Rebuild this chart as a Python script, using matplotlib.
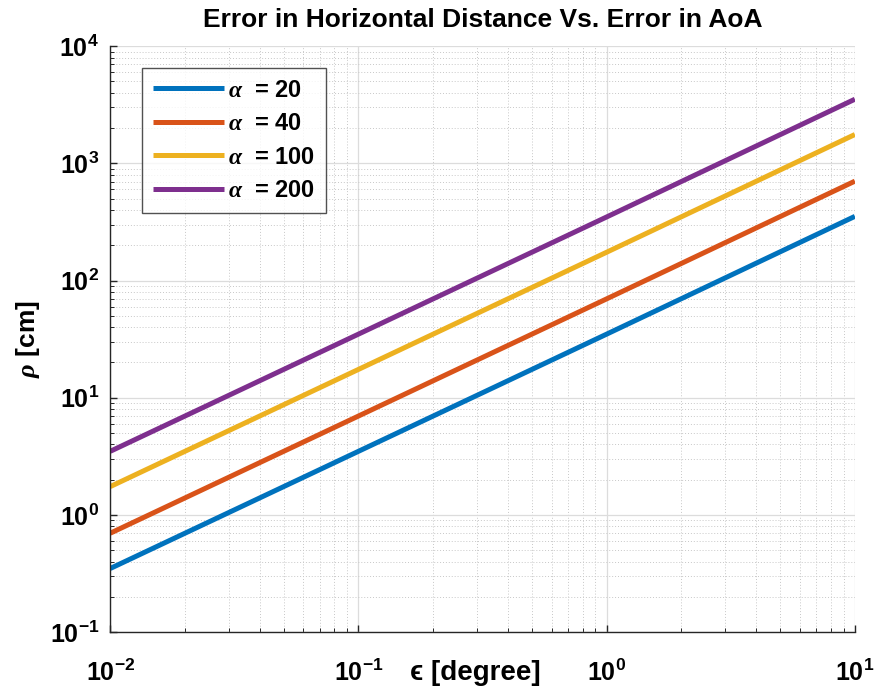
import matplotlib
matplotlib.use("Agg")
import matplotlib.pyplot as plt
from matplotlib.ticker import FixedLocator, FixedFormatter, LogLocator, NullFormatter

plt.rcParams['font.family'] = ['Liberation Sans', 'DejaVu Sans']
plt.rcParams['font.weight'] = 'bold'
plt.rcParams['mathtext.fontset'] = 'custom'
plt.rcParams['mathtext.rm'] = 'Liberation Sans:bold'
plt.rcParams['mathtext.bf'] = 'Liberation Sans:bold'
plt.rcParams['mathtext.it'] = 'Liberation Serif:italic'

# Data
eps = [0.01, 0.1, 1.0, 10.0]
rho_a20 = [0.349, 3.49, 34.9, 353]
rho_a40 = [0.698, 6.98, 69.8, 705]
rho_a100 = [1.745, 17.45, 174.5, 1763]
rho_a200 = [3.49, 34.9, 349, 3527]
series = [("20", rho_a20), ("40", rho_a40), ("100", rho_a100), ("200", rho_a200)]
colors = ["#0072BD", "#D95319", "#EDB120", "#7E2F8E"]

x_ticks = [1e-2, 1e-1, 1e0, 1e1]
x_ticklabels = [r'$\mathbf{10^{-2}}$', r'$\mathbf{10^{-1}}$', r'$\mathbf{10^{0}}$', r'$\mathbf{10^{1}}$']
y_ticks = [1e-1, 1e0, 1e1, 1e2, 1e3, 1e4]
y_ticklabels = [r'$\mathbf{10^{-1}}$', r'$\mathbf{10^{0}}$', r'$\mathbf{10^{1}}$',
                r'$\mathbf{10^{2}}$', r'$\mathbf{10^{3}}$', r'$\mathbf{10^{4}}$']

fig = plt.figure(figsize=(8.75, 7), dpi=100)
ax = fig.add_axes([0.126, 0.097, 0.851, 0.837])

for (a, vals), c in zip(series, colors):
    ax.plot(eps, vals, color=c, lw=3.6, solid_capstyle='butt',
            label=r'$\it{\alpha}$  = ' + a)

ax.set_xscale('log')
ax.set_yscale('log')
ax.set_xlim(1e-2, 1e1)
ax.set_ylim(1e-1, 1e4)

ax.xaxis.set_major_locator(FixedLocator(x_ticks))
ax.xaxis.set_major_formatter(FixedFormatter(x_ticklabels))
ax.yaxis.set_major_locator(FixedLocator(y_ticks))
ax.yaxis.set_major_formatter(FixedFormatter(y_ticklabels))
ax.xaxis.set_minor_locator(LogLocator(base=10, subs=range(2, 10), numticks=20))
ax.yaxis.set_minor_locator(LogLocator(base=10, subs=range(2, 10), numticks=20))
ax.xaxis.set_minor_formatter(NullFormatter())
ax.yaxis.set_minor_formatter(NullFormatter())

ax.tick_params(axis='both', which='major', direction='in', length=5, width=1,
               labelsize=18, color='#262626')
ax.tick_params(axis='both', which='minor', direction='in', length=3, width=0.7,
               color='#262626')
ax.tick_params(axis='x', which='major', pad=20)
ax.tick_params(axis='y', which='major', pad=8)

ax.grid(True, which='major', color='#dcdcdc', lw=0.9, ls='-')
ax.grid(True, which='minor', color='#c8c8c8', lw=0.7, ls=(0, (1, 2)))
ax.set_axisbelow(True)

for s in ['top', 'right']:
    ax.spines[s].set_visible(False)
for s in ['left', 'bottom']:
    ax.spines[s].set_color('#262626')
    ax.spines[s].set_linewidth(1.0)

ax.set_title('Error in Horizontal Distance Vs. Error in AoA', fontsize=19,
             fontweight='bold', pad=14)
ax.set_xlabel('\u03f5 [degree]', fontsize=20, fontweight='bold',
              family=['Liberation Sans', 'DejaVu Serif', 'DejaVu Sans'])
ax.xaxis.set_label_coords(0.49, -0.048)
ax.set_ylabel(r'$\it{\rho}$ [cm]', fontsize=19, fontweight='bold')
ax.yaxis.set_label_coords(-0.092, 0.5)

leg = ax.legend(loc='upper left', bbox_to_anchor=(0.043, 0.963), fontsize=17,
                frameon=True, fancybox=False, edgecolor='#262626',
                handlelength=3.0, handletextpad=0.2, borderpad=0.45,
                labelspacing=0.45, borderaxespad=0)
leg.get_frame().set_linewidth(1.0)

fig.savefig('out.png', dpi=100, facecolor='white')
